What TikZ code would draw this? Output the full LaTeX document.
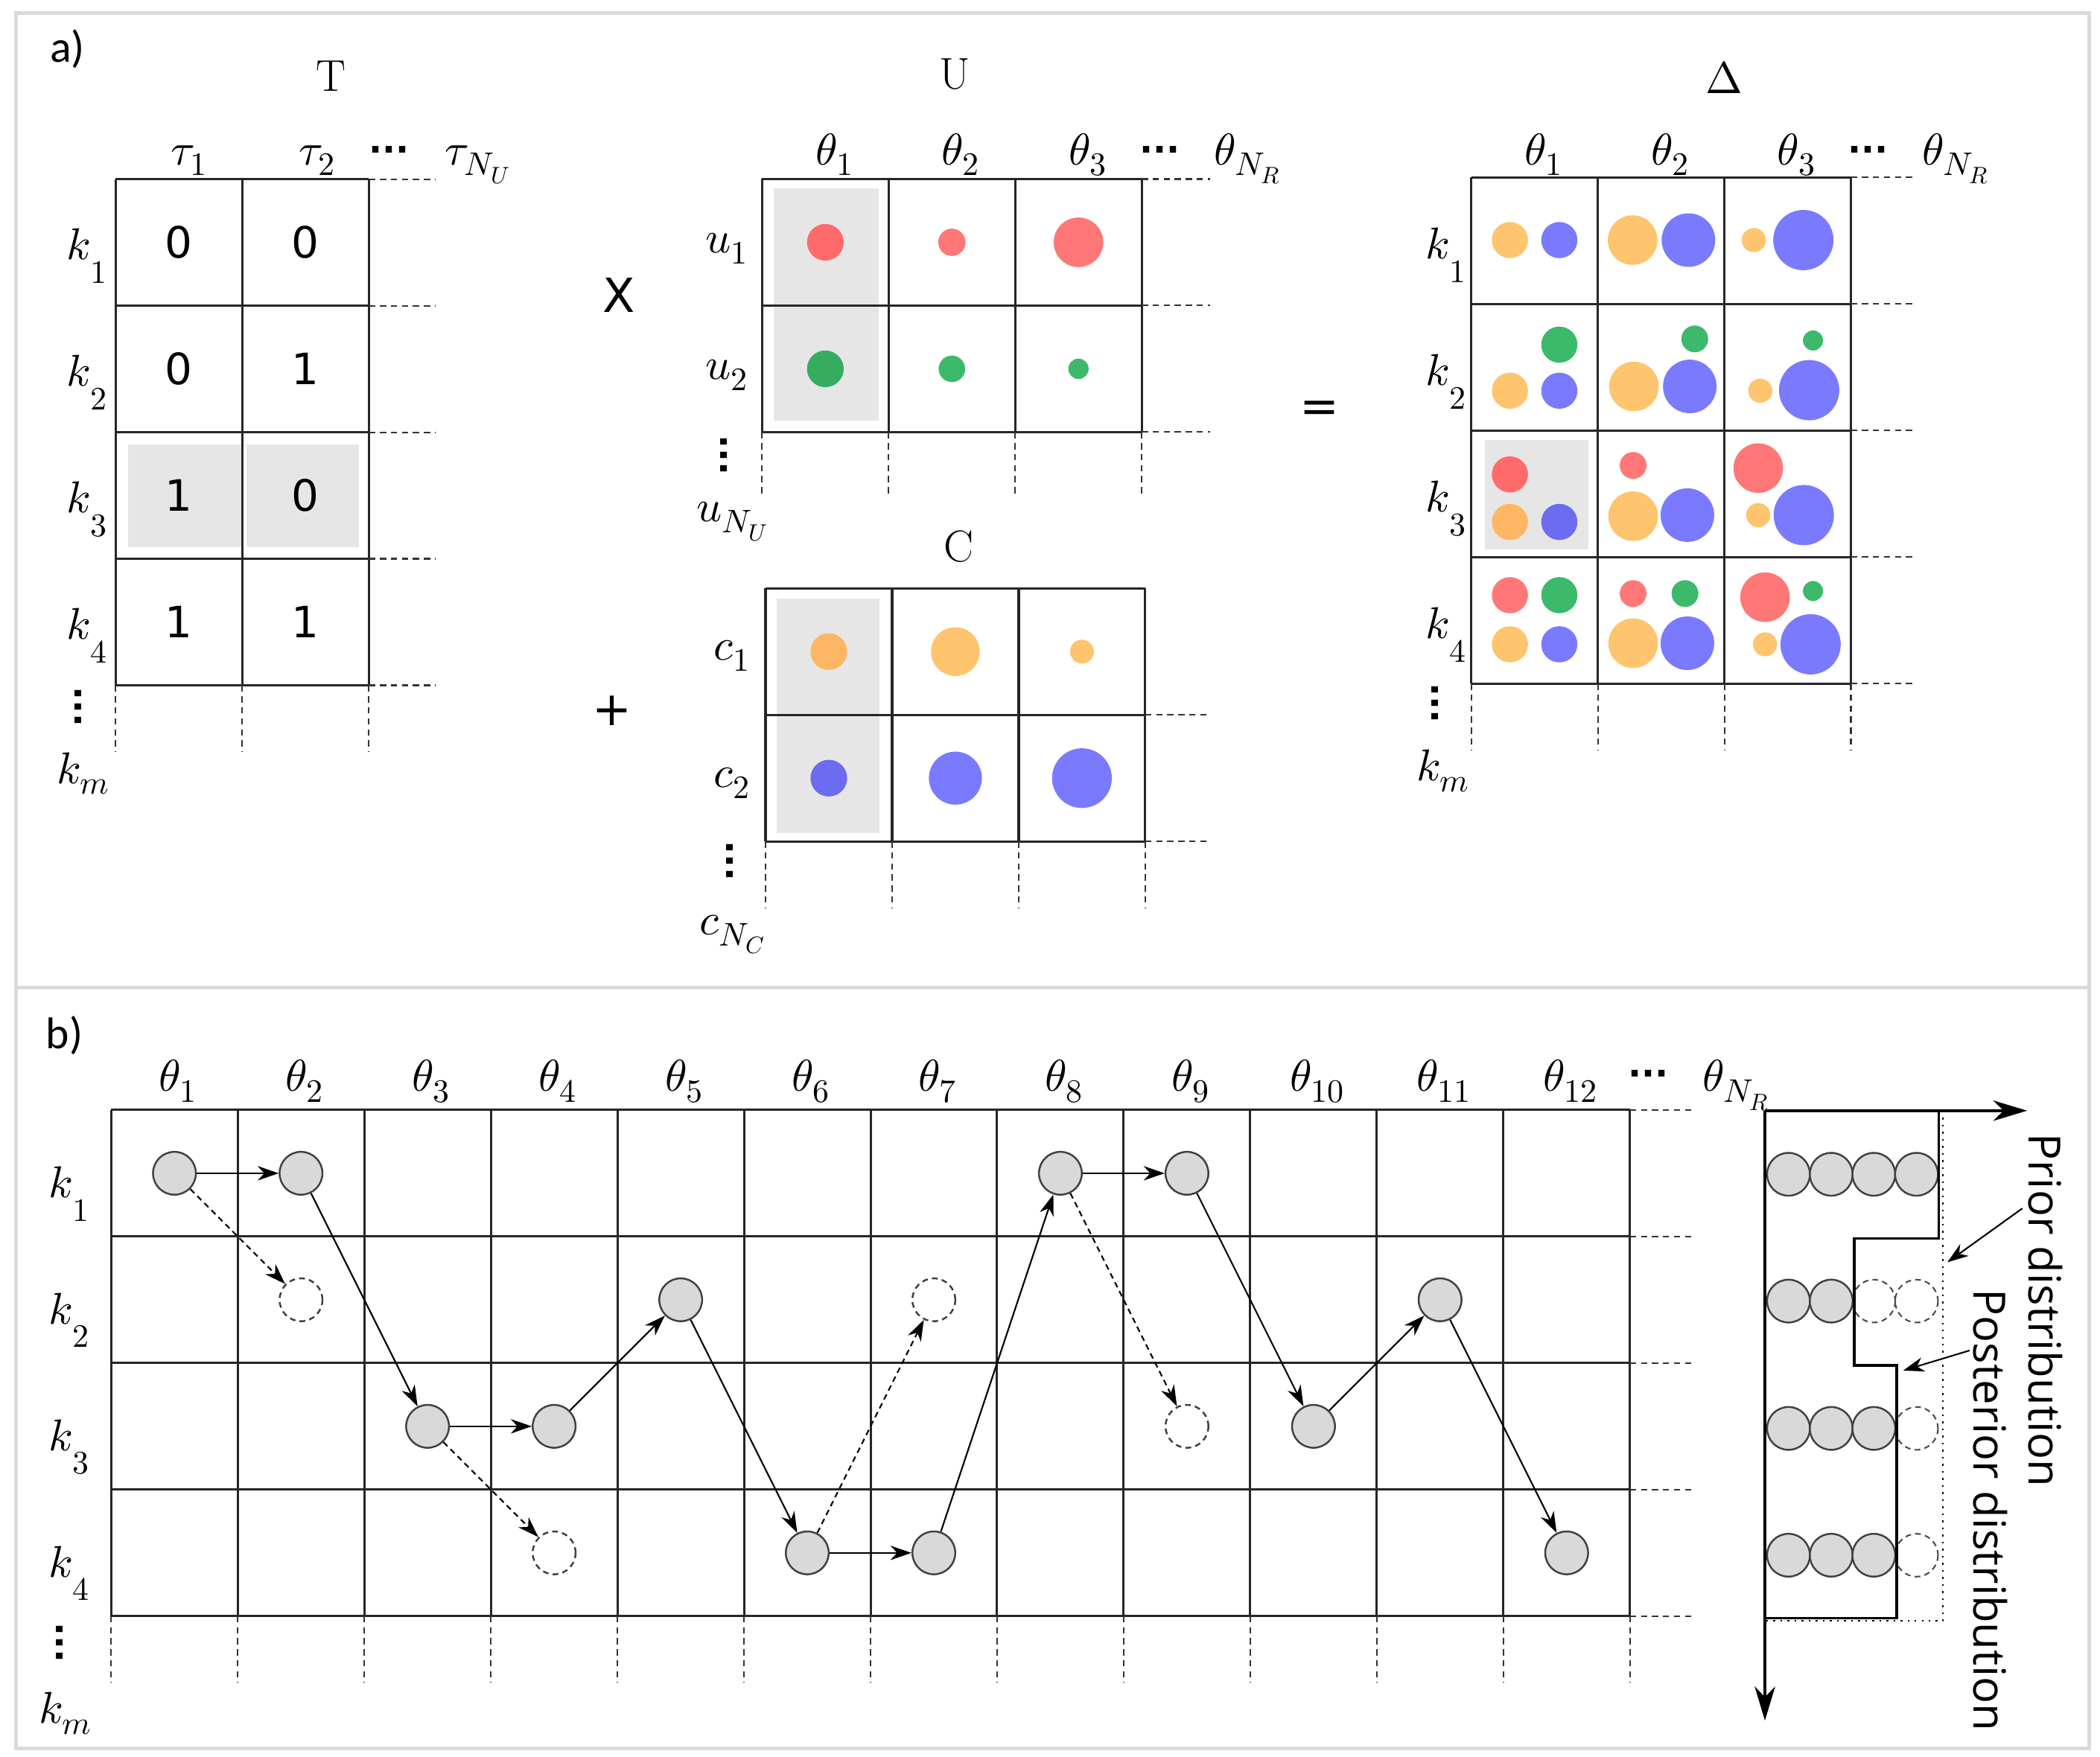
\documentclass[tikz,border=0pt]{standalone}
\usepackage{fontspec}
\usepackage{unicode-math}
\setmathfont{Latin Modern Math}
\DeclareMathSizes{17}{17}{12.5}{9}
\newfontfamily\dejavu{DejaVu Sans}
\newfontfamily\carlito{Carlito}
\newfontfamily\osans{Open Sans}
\usetikzlibrary{arrows.meta}
\definecolor{pnlborder}{RGB}{218,218,218}
\definecolor{hlgray}{RGB}{230,230,230}
\definecolor{nodegray}{RGB}{217,217,217}
\definecolor{colR}{RGB}{255,119,119}
\definecolor{colG}{RGB}{60,185,106}
\definecolor{colO}{RGB}{255,196,110}
\definecolor{colB}{RGB}{122,122,255}
\definecolor{colRg}{RGB}{255,107,107}
\definecolor{colGg}{RGB}{54,172,96}
\definecolor{colOg}{RGB}{255,182,100}
\definecolor{colBg}{RGB}{108,108,240}
\newcommand{\klab}[1]{$k\raisebox{-9pt}{$\scriptstyle #1$}$}
\newcommand{\hdotsb}{{\dejavu\bfseries\fontsize{13.5}{16}\selectfont ···}}
\newcommand{\vdotsb}{\rotatebox{90}{\dejavu\bfseries\fontsize{13.5}{16}\selectfont ···}}
\newcommand{\dc}[4]{\fill[#1] (#2,#3) circle (#4);}
\tikzset{
  panel/.style={draw=pnlborder, line width=1.4pt},
  gridln/.style={line width=0.9pt, draw=black!85},
  extln/.style={line width=0.6pt, draw=black!80, dash pattern=on 2.4pt off 1.8pt},
  hl/.style={fill=hlgray},
  mlab/.style={font=\fontsize{17}{20}\selectfont, inner sep=0pt},
  ttl/.style={font=\fontsize{17}{20}\selectfont, inner sep=0pt},
  num/.style={font=\dejavu\fontsize{16.5}{20}\selectfont, inner sep=0pt},
  panlab/.style={font=\carlito\fontsize{17}{20}\selectfont, inner sep=0pt},
  distlab/.style={font=\osans\fontsize{17}{20}\selectfont, inner sep=0pt},
  cR/.style={fill=colR}, cG/.style={fill=colG}, cO/.style={fill=colO}, cB/.style={fill=colB},
  cRg/.style={fill=colRg}, cGg/.style={fill=colGg}, cOg/.style={fill=colOg}, cBg/.style={fill=colBg},
  pnode/.style={circle, draw=black!75, fill=nodegray, line width=0.7pt, minimum size=5.76mm, inner sep=0pt},
  dnode/.style={circle, draw=black!75, dash pattern=on 2.2pt off 1.6pt, line width=0.7pt, minimum size=5.76mm, inner sep=0pt},
  arr/.style={-{Stealth[length=8pt,width=5.5pt,inset=2.5pt]}, line width=0.6pt},
  darr/.style={arr, dash pattern=on 2.2pt off 1.6pt},
  axarr/.style={-{Stealth[length=13pt,width=7.8pt,inset=4pt]}, line width=1pt},
  dcirc/.style={draw=black!75, fill=nodegray, line width=0.7pt},
  dcircd/.style={draw=black!70, dash pattern=on 2.2pt off 1.6pt, line width=0.6pt},
}
\begin{document}
\begin{tikzpicture}[x=0.17985mm, y=-0.17985mm]
\useasboundingbox (0,0) rectangle (1568,1312);
% panels
\draw[panel] (12,9.6) rectangle (1560,737.3);
\draw[panel] (12,737.3) rectangle (1560,1305.6);
\node[panlab, anchor=base west] (la) at (37,46.3) {a)};
\node[panlab, anchor=base west] (lb) at (34,783) {b)};

% ---------------- T matrix
\begin{scope}[shift={(86.4,133.8)}]
  \fill[hl] (9.2,197.9) rectangle (94.5,274.7);
  \fill[hl] (97.6,197.9) rectangle (181.6,274.7);
  \foreach \i in {0,1,2} \draw[gridln] (\i*94.5,0) -- (\i*94.5,378);
  \foreach \j in {0,...,4} \draw[gridln] (0,\j*94.5) -- (189,\j*94.5);
  \foreach \j in {0,...,4} \draw[extln] (189,\j*94.5) -- (239,\j*94.5);
  \foreach \i in {0,1,2} \draw[extln] (\i*94.5,378) -- (\i*94.5,428);
  \node[num] (t11) at (47.25,47.25) {0};
  \node[num] (t12) at (141.75,47.25) {0};
  \node[num] (t21) at (47.25,141.75) {0};
  \node[num] (t22) at (141.75,141.75) {1};
  \node[num] (t31) at (47.25,236.25) {1};
  \node[num] (t32) at (141.75,236.25) {0};
  \node[num] (t41) at (47.25,330.75) {1};
  \node[num] (t42) at (141.75,330.75) {1};
\end{scope}
\node[ttl] (tT) at (247,56.6) {T};
\node[mlab, anchor=base] (tau1) at (141.5,123) {$\tau_1$};
\node[mlab, anchor=base] (tau2) at (237,123) {$\tau_2$};
\node[mlab, anchor=base] (taud) at (290.4,121) {\hdotsb};
\node[mlab, anchor=base west] (tauN) at (332,123) {$\tau_{N_U}$};
\node[mlab, anchor=base west] (tk1) at (49.6,194) {\klab{1}};
\node[mlab, anchor=base west] (tk2) at (49.6,288.5) {\klab{2}};
\node[mlab, anchor=base west] (tk3) at (49.6,383) {\klab{3}};
\node[mlab, anchor=base west] (tk4) at (49.6,477.5) {\klab{4}};
\node[mlab] (tkd) at (61.5,528) {\vdotsb};
\node[mlab, anchor=base] (tkm) at (62.6,585) {$k_m$};

% operators
\node[num, font=\dejavu\fontsize{18}{20}\selectfont] (opx) at (462.4,220.6) {X};
\node[num, font=\dejavu\fontsize{18}{20}\selectfont] (opp) at (457,531) {+};
\node[num, font=\dejavu\fontsize{18}{20}\selectfont] (ope) at (985,307.7) {=};

% ---------------- U matrix
\begin{scope}[shift={(569,133.7)}]
  \fill[hl] (8.7,6.9) rectangle (87,180.7);
  \dc{cRg}{47.25}{47.25}{13.7}
  \dc{cR}{141.75}{47.25}{10.2}
  \dc{cR}{236.25}{47.25}{18.5}
  \dc{cGg}{47.25}{141.75}{13.7}
  \dc{cG}{141.75}{141.75}{9.9}
  \dc{cG}{236.25}{141.75}{7.6}
  \foreach \i in {0,...,3} \draw[gridln] (\i*94.5,0) -- (\i*94.5,189);
  \foreach \j in {0,1,2} \draw[gridln] (0,\j*94.5) -- (283.5,\j*94.5);
  \foreach \j in {0,1,2} \draw[extln] (283.5,\j*94.5) -- (334.3,\j*94.5);
  \foreach \i in {0,...,3} \draw[extln] (\i*94.5,189) -- (\i*94.5,237.3);
\end{scope}
\node[ttl] (tU) at (712.7,55.3) {U};
\node[mlab, anchor=base] (uth1) at (623.3,123) {$\theta_1$};
\node[mlab, anchor=base] (uth2) at (717.5,123) {$\theta_2$};
\node[mlab, anchor=base] (uth3) at (812.3,123) {$\theta_3$};
\node[mlab, anchor=base] (uthd) at (866,121) {\hdotsb};
\node[mlab, anchor=base west] (uthN) at (906,123) {$\theta_{N_R}$};
\node[mlab, anchor=base] (u1) at (542.7,189) {$u_1$};
\node[mlab, anchor=base] (u2) at (542.7,283.5) {$u_2$};
\node[mlab] (ud) at (543.6,340) {\vdotsb};
\node[mlab, anchor=base] (uN) at (547.4,389.6) {$u_{N_U}$};

% ---------------- C matrix
\begin{scope}[shift={(571.6,439.4)}]
  \fill[hl] (8.1,7.8) rectangle (84.9,183);
  \dc{cOg}{47.25}{47.25}{13.7}
  \dc{cO}{141.75}{47.25}{18.2}
  \dc{cO}{236.25}{47.25}{8.9}
  \dc{cBg}{47.25}{141.75}{13.7}
  \dc{cB}{141.75}{141.75}{19.8}
  \dc{cB}{236.25}{141.75}{22.3}
  \foreach \i in {0,...,3} \draw[gridln] (\i*94.5,0) -- (\i*94.5,189);
  \foreach \j in {0,1,2} \draw[gridln] (0,\j*94.5) -- (283.5,\j*94.5);
  \foreach \j in {1,2} \draw[extln] (283.5,\j*94.5) -- (332.4,\j*94.5);
  \foreach \i in {0,...,3} \draw[extln] (\i*94.5,189) -- (\i*94.5,238.4);
\end{scope}
\node[ttl] (tC) at (716,408) {C};
\node[mlab, anchor=base] (c1) at (546.7,493) {$c_1$};
\node[mlab, anchor=base] (c2) at (546.7,588) {$c_2$};
\node[mlab] (cd) at (548,643) {\vdotsb};
\node[mlab, anchor=base] (cN) at (547.5,698) {$c_{N_C}$};

% ---------------- Delta matrix
\begin{scope}[shift={(1098.5,132.5)}]
  \fill[hl] (10.1,196.1) rectangle (87.7,278);
  % row k1
  \dc{cO}{28.9}{46.8}{13.5} \dc{cB}{65.8}{46.8}{13.5}
  \dc{cO}{120.5}{46.8}{18.5} \dc{cB}{162.2}{46.8}{20}
  \dc{cO}{211}{46.8}{9} \dc{cB}{248}{46.8}{22.5}
  % row k2
  \dc{cG}{65.8}{124.9}{13.5} \dc{cO}{28.9}{159.3}{13.5} \dc{cB}{65.8}{159.3}{13.5}
  \dc{cG}{166.9}{120.6}{10} \dc{cO}{121.5}{156.1}{18.5} \dc{cB}{163.2}{156.1}{20}
  \dc{cG}{255.2}{121.8}{7.5} \dc{cO}{215.8}{159.3}{9} \dc{cB}{252.3}{158.9}{22.5}
  % row k3
  \dc{cRg}{28.9}{221.8}{13.5} \dc{cOg}{28.9}{257.3}{13.5} \dc{cBg}{65.8}{257.3}{13.5}
  \dc{cR}{120.9}{215.1}{10} \dc{cO}{120.9}{253}{18.5} \dc{cB}{161.4}{252.2}{20}
  \dc{cR}{214.3}{217.1}{18.5} \dc{cO}{214.3}{252.2}{9} \dc{cB}{248.3}{252.2}{22.5}
  % row k4
  \dc{cR}{28.9}{312}{13.5} \dc{cG}{65.8}{312}{13.5} \dc{cO}{28.9}{348.7}{13.5} \dc{cB}{65.8}{348.7}{13.5}
  \dc{cR}{120.9}{310.8}{10} \dc{cG}{159.6}{310.8}{10} \dc{cO}{120.9}{347.9}{18.5} \dc{cB}{161.4}{347.9}{20}
  \dc{cR}{219.4}{313.5}{18.5} \dc{cG}{255.2}{308.9}{7.5} \dc{cO}{219.4}{348.7}{9} \dc{cB}{253.4}{348.7}{22.5}
  \foreach \i in {0,...,3} \draw[gridln] (\i*94.5,0) -- (\i*94.5,378);
  \foreach \j in {0,...,4} \draw[gridln] (0,\j*94.5) -- (283.5,\j*94.5);
  \foreach \j in {0,...,4} \draw[extln] (283.5,\j*94.5) -- (332.5,\j*94.5);
  \foreach \i in {0,...,3} \draw[extln] (\i*94.5,378) -- (\i*94.5,427.5);
\end{scope}
\node[ttl] (tD) at (1287.4,57.8) {$\Delta$};
\node[mlab, anchor=base] (dth1) at (1152.8,123) {$\theta_1$};
\node[mlab, anchor=base] (dth2) at (1247.6,123) {$\theta_2$};
\node[mlab, anchor=base] (dth3) at (1341.6,123) {$\theta_3$};
\node[mlab, anchor=base] (dthd) at (1395,121) {\hdotsb};
\node[mlab, anchor=base west] (dthN) at (1435,123) {$\theta_{N_R}$};
\node[mlab, anchor=base west] (dk1) at (1064.2,193.3) {\klab{1}};
\node[mlab, anchor=base west] (dk2) at (1064.2,287.8) {\klab{2}};
\node[mlab, anchor=base west] (dk3) at (1064.2,382.3) {\klab{3}};
\node[mlab, anchor=base west] (dk4) at (1064.2,476.8) {\klab{4}};
\node[mlab] (dkd) at (1075,525) {\vdotsb};
\node[mlab, anchor=base] (dkm) at (1077.6,583) {$k_m$};

% ---------------- panel b grid
\begin{scope}[shift={(83,829)}]
  \foreach \i in {0,...,12} \draw[gridln, line width=0.85pt] (\i*94.5,0) -- (\i*94.5,378);
  \foreach \j in {0,...,4} \draw[gridln, line width=0.85pt] (0,\j*94.5) -- (1134,\j*94.5);
  \foreach \j in {0,...,4} \draw[extln] (1134,\j*94.5) -- (1183,\j*94.5);
  \foreach \i in {0,...,12} \draw[extln] (\i*94.5,378) -- (\i*94.5,427.7);
\end{scope}
\foreach \i in {1,...,12} \node[mlab, anchor=base] (bth\i) at ({130.25+94.5*(\i-1)+3},815) {$\theta_{\i}$};
\node[mlab, anchor=base] (bthd) at (1231,811) {\hdotsb};
\node[mlab, anchor=base west] (bthN) at (1271,815) {$\theta_{N_R}$};
\node[mlab, anchor=base west] (bk1) at (36.2,894.3) {\klab{1}};
\node[mlab, anchor=base west] (bk2) at (36.2,988.8) {\klab{2}};
\node[mlab, anchor=base west] (bk3) at (36.2,1083.3) {\klab{3}};
\node[mlab, anchor=base west] (bk4) at (36.2,1177.8) {\klab{4}};
\node[mlab] (bkd) at (47.6,1227) {\vdotsb};
\node[mlab, anchor=base] (bkm) at (48.9,1287) {$k_m$};

% chain nodes
\node[pnode] (n1) at (130.25,876.25) {};
\node[pnode] (n2) at (224.75,876.25) {};
\node[pnode] (n3) at (319.25,1065.25) {};
\node[pnode] (n4) at (413.75,1065.25) {};
\node[pnode] (n5) at (508.25,970.75) {};
\node[pnode] (n6) at (602.75,1159.75) {};
\node[pnode] (n7) at (697.25,1159.75) {};
\node[pnode] (n8) at (791.75,876.25) {};
\node[pnode] (n9) at (886.25,876.25) {};
\node[pnode] (n10) at (980.75,1065.25) {};
\node[pnode] (n11) at (1075.25,970.75) {};
\node[pnode] (n12) at (1169.75,1159.75) {};
\node[dnode] (d2) at (224.75,970.75) {};
\node[dnode] (d4) at (413.75,1159.75) {};
\node[dnode] (d7) at (697.25,970.75) {};
\node[dnode] (d9) at (886.25,1065.25) {};
\draw[arr] (n1) -- (n2);
\draw[darr] (n1) -- (d2);
\draw[arr] (n2) -- (n3);
\draw[arr] (n3) -- (n4);
\draw[darr] (n3) -- (d4);
\draw[arr] (n4) -- (n5);
\draw[arr] (n5) -- (n6);
\draw[arr] (n6) -- (n7);
\draw[darr] (n6) -- (d7);
\draw[arr] (n7) -- (n8);
\draw[arr] (n8) -- (n9);
\draw[darr] (n8) -- (d9);
\draw[arr] (n9) -- (n10);
\draw[arr] (n10) -- (n11);
\draw[arr] (n11) -- (n12);

% ---------------- distributions
\foreach \x in {1335.4,1367.3,1399.1,1431} \draw[dcirc] (\x,877) circle (16);
\foreach \x in {1335.4,1367.3} \draw[dcirc] (\x,971.7) circle (16);
\foreach \x in {1399.1,1431} \draw[dcircd] (\x,971.7) circle (16);
\foreach \x in {1335.4,1367.3,1399.1} \draw[dcirc] (\x,1066.8) circle (16);
\draw[dcircd] (1431,1066.8) circle (16);
\foreach \x in {1335.4,1367.3,1399.1} \draw[dcirc] (\x,1161.5) circle (16);
\draw[dcircd] (1431,1161.5) circle (16);
\draw[line width=0.7pt, dotted] (1450.8,829.5) -- (1450.8,1210.6) -- (1317.8,1210.6);
\draw[line width=1pt] (1317.8,829.5) -- (1447.5,829.5) -- (1447.5,925) -- (1384.4,925) -- (1384.4,1019.8) -- (1416.3,1019.8) -- (1416.3,1208.6) -- (1317.8,1208.6);
\coordinate (origin) at (1317.8,829.5);
\coordinate (xend) at (1513.6,829.5);
\coordinate (yend) at (1317.8,1285);
\draw[axarr] (origin) -- (xend);
\draw[axarr] (origin) -- (yend);
\node[distlab, rotate=-90, anchor=base] (prior) at (1514.6,978.5) {Prior distribution};
\node[distlab, rotate=-90, anchor=base] (post) at (1474,1128) {Posterior distribution};
\coordinate (priorS) at (1510,902.5);
\coordinate (priorT) at (1454,942.7);
\coordinate (postS) at (1470.6,1008.6);
\coordinate (postT) at (1421,1023.6);
\draw[arr] (priorS) -- (priorT);
\draw[arr] (postS) -- (postT);
\end{tikzpicture}
\end{document}
